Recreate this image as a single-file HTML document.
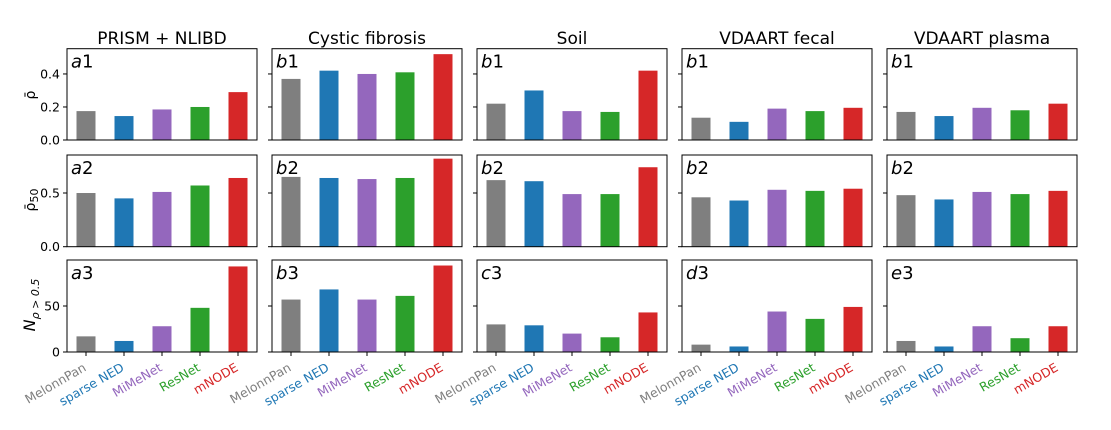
<!DOCTYPE html>
<html><head><meta charset="utf-8"><style>
body{margin:0;background:#fff;}
svg{font-family:"DejaVu Sans","Liberation Sans",sans-serif;}
</style></head><body>
<svg id="c" width="1111" height="425" xmlns="http://www.w3.org/2000/svg"></svg>
<script>
const datasets=["PRISM + NLIBD","Cystic fibrosis","Soil","VDAART fecal","VDAART plasma"];
const methods=["MelonnPan","sparse NED","MiMeNet","ResNet","mNODE"];
const colors=["#7f7f7f","#1f77b4","#9467bd","#2ca02c","#d62728"];
const rhoMean=[[0.175,0.145,0.185,0.2,0.29],[0.37,0.42,0.40,0.41,0.52],[0.22,0.30,0.175,0.17,0.42],[0.135,0.11,0.19,0.175,0.195],[0.17,0.145,0.195,0.18,0.22]];
const rho50=[[0.50,0.45,0.51,0.57,0.64],[0.65,0.64,0.63,0.64,0.82],[0.62,0.61,0.49,0.49,0.74],[0.46,0.43,0.53,0.52,0.54],[0.48,0.44,0.51,0.49,0.52]];
const nAbove=[[17,12,28,48,93],[57,68,57,61,94],[30,29,20,16,43],[8,6,44,36,49],[12,6,28,15,28]];
const letters=[["a1","b1","b1","b1","b1"],["a2","b2","b2","b2","b2"],["a3","b3","c3","d3","e3"]];
const rowTicks=[[0,0.2,0.4],[0,0.5],[0,50]];
const rowTickLabels=[["0.0","0.2","0.4"],["0.0","0.5"],["0","50"]];
const rowMax=[0.553,0.854,100];
const rows=[rhoMean,rho50,nAbove];
const NS="http://www.w3.org/2000/svg";
const svg=document.getElementById('c');
function mk(t,a,p){const e=document.createElementNS(NS,t);for(const k in a)e.setAttribute(k,a[k]);(p||svg).appendChild(e);return e;}
const rowTop=[48.7,155,260],rowBot=[140,246.7,352];
const colLeft=[67,272,477,682,887],W=190;
for(let c=0;c<5;c++){
 const t=mk('text',{x:colLeft[c]+W/2,y:44,'text-anchor':'middle','font-size':17});
 t.textContent=datasets[c];
 
 
 for(let r=0;r<3;r++){
  const g=mk('g',{});
  
  
  const x0=colLeft[c],y0=rowTop[r],y1=rowBot[r];
  const ys=v=>y1-(v/rowMax[r])*(y1-y0);
  const xs=i=>x0+(i+0.5)*W/5;
  rows[r][c].forEach((v,i)=>{
   const b=mk('rect',{x:xs(i)-W/20,y:ys(v),width:W/10,height:y1-ys(v),fill:colors[i]},g);
   
   
  });
  mk('rect',{x:x0,y:y0,width:W,height:y1-y0,fill:'none',stroke:'#000','stroke-width':1},g);
  rowTicks[r].forEach((tv,k)=>{
   mk('line',{x1:x0-4,x2:x0,y1:ys(tv),y2:ys(tv),stroke:'#000'},g);
   if(c==0){const tl=mk('text',{x:x0-7,y:ys(tv)+4.5,'text-anchor':'end','font-size':12.5},g);tl.textContent=rowTickLabels[r][k];}
  });
  const lt=mk('text',{x:x0+4,y:y0+19,'font-size':18},g);
  lt.innerHTML='<tspan font-style="italic">'+letters[r][c][0]+'</tspan>'+letters[r][c][1];
  if(r==2){
   methods.forEach((m,i)=>{
    mk('line',{x1:xs(i),x2:xs(i),y1:y1,y2:y1+4,stroke:'#000'},g);
    const xl=mk('text',{x:0,y:0,'text-anchor':'end','font-size':12.5,fill:colors[i],transform:`translate(${xs(i)+1},${y1+18}) rotate(-30)`},g);
    xl.textContent=m;
    
    
   });
  }
 }
}
const yl=[['ρ̄',95,14],['ρ̄<tspan font-size="11" dy="3">50</tspan>',200,14],['<tspan font-style="italic">N</tspan><tspan font-size="11" dy="4" font-style="italic">ρ &gt; 0.5</tspan>',305,16]];
yl.forEach(([s,y,f])=>{
 const t=mk('text',{x:0,y:0,'text-anchor':'middle','font-size':f,transform:`translate(35,${y}) rotate(-90)`});
 t.innerHTML=s;
 
 
});
</script>
</body></html>
